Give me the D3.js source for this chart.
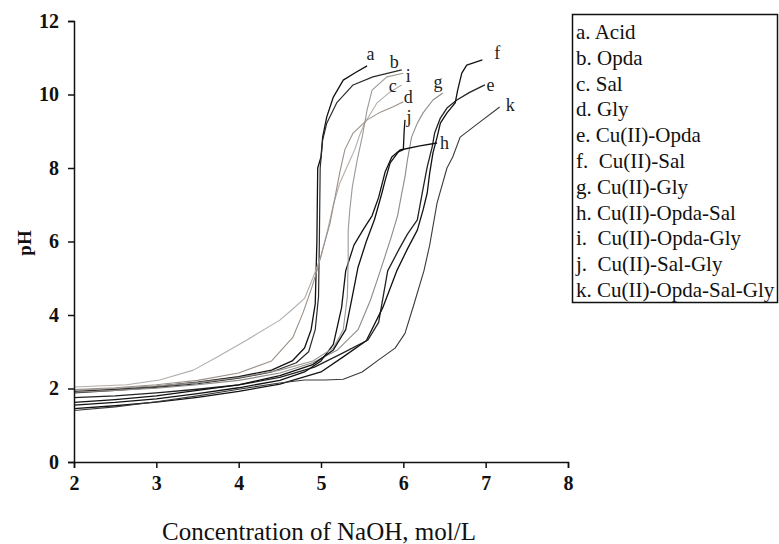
<!DOCTYPE html>
<html><head><meta charset="utf-8">
<script src="https://cdn.jsdelivr.net/npm/d3@7"></script>
<style>html,body{margin:0;padding:0;background:#fff;}svg{display:block;}</style>
</head><body>
<script>
const xTicks = [2,3,4,5,6,7,8];
const yTicks = [0,2,4,6,8,10,12];
const xTitle = "Concentration of NaOH, mol/L";
const yTitle = "pH";
const letters = ["a","b","c","d","e","f","g","h","i","j","k"];
const legendLabels = ["a. Acid","b. Opda","c. Sal","d. Gly","e. Cu(II)-Opda","f.  Cu(II)-Sal","g. Cu(II)-Gly","h. Cu(II)-Opda-Sal","i.  Cu(II)-Opda-Gly","j.  Cu(II)-Sal-Gly","k. Cu(II)-Opda-Sal-Gly"];

// [NaOH, pH] pairs
const curveA = [[2,1.92],[2.5,1.98],[3,2.06],[3.5,2.17],[4,2.32],[4.4,2.5],[4.65,2.75],[4.8,3.1],[4.88,3.6],[4.93,4.3],[4.95,6.0],[4.96,8.0],[5.0,8.3],[5.02,8.84],[5.07,9.39],[5.15,9.93],[5.27,10.39],[5.42,10.6],[5.56,10.78]];
const curveB = [[2,1.88],[2.5,1.95],[3,2.03],[3.5,2.13],[4,2.28],[4.4,2.45],[4.7,2.7],[4.85,3.0],[4.93,3.6],[4.97,4.5],[4.98,6.0],[4.99,8.0],[5.02,8.76],[5.07,9.22],[5.19,9.77],[5.39,10.26],[5.63,10.48],[5.98,10.67]];
const curveC = [[2,2.04],[2.64,2.1],[3.04,2.23],[3.45,2.5],[3.74,2.86],[4.1,3.32],[4.5,3.86],[4.65,4.15],[4.8,4.45],[4.9,5.0],[5.0,5.6],[5.08,6.3],[5.15,7.0],[5.23,7.6],[5.33,8.1],[5.41,8.5],[5.47,8.9],[5.53,9.22],[5.68,9.77],[5.84,10.07],[5.98,10.26]];
const curveD = [[2,1.97],[2.5,2.02],[3,2.1],[3.5,2.22],[4,2.42],[4.4,2.75],[4.66,3.4],[4.78,4.05],[4.89,4.76],[4.95,5.2],[5.02,5.77],[5.11,6.5],[5.17,7.2],[5.23,7.9],[5.29,8.5],[5.39,8.95],[5.56,9.31],[5.72,9.52],[5.87,9.66],[6.0,9.8]];
const curveE = [[2,1.75],[2.5,1.8],[3,1.88],[3.5,1.98],[4,2.1],[4.5,2.3],[4.92,2.58],[5.25,2.95],[5.57,3.32],[5.7,3.8],[5.81,5.2],[5.95,5.8],[6.05,6.2],[6.17,6.59],[6.23,7.32],[6.29,8.03],[6.35,8.57],[6.38,8.95],[6.45,9.36],[6.53,9.63],[6.65,9.85],[6.8,10.05],[6.99,10.26]];
const curveF = [[2,1.45],[2.5,1.53],[3,1.63],[3.5,1.76],[4,1.92],[4.5,2.12],[5.0,2.45],[5.27,2.86],[5.55,3.3],[5.75,4.2],[5.92,5.2],[6.05,5.8],[6.17,6.31],[6.24,6.86],[6.29,7.32],[6.32,7.86],[6.36,8.41],[6.41,8.84],[6.45,9.22],[6.53,9.5],[6.63,9.77],[6.66,10.12],[6.71,10.58],[6.77,10.8],[6.96,10.94]];
const curveG = [[2,1.9],[2.5,1.95],[3,2.01],[3.5,2.1],[4,2.22],[4.5,2.42],[4.9,2.7],[5.2,3.05],[5.45,3.6],[5.6,4.4],[5.72,5.2],[5.85,6.1],[5.93,6.7],[5.98,7.3],[6.02,7.76],[6.05,8.22],[6.1,8.84],[6.17,9.22],[6.24,9.5],[6.36,9.85],[6.48,10.04]];
const curveH = [[2,1.55],[2.5,1.62],[3,1.72],[3.5,1.86],[4,2.02],[4.5,2.22],[4.8,2.45],[5.0,2.75],[5.15,3.2],[5.25,4.2],[5.3,5.2],[5.4,5.9],[5.52,6.35],[5.62,6.7],[5.7,7.2],[5.78,7.9],[5.86,8.3],[5.96,8.49],[6.2,8.6],[6.41,8.68]];
const curveI = [[2,1.95],[2.5,2.0],[3,2.07],[3.5,2.16],[4,2.3],[4.5,2.5],[4.9,2.75],[5.15,3.1],[5.27,3.6],[5.32,4.5],[5.33,5.5],[5.33,6.3],[5.35,6.86],[5.38,7.48],[5.44,8.22],[5.5,8.84],[5.56,9.58],[5.62,10.12],[5.8,10.48],[6.0,10.58]];
const curveJ = [[2,1.62],[2.5,1.7],[3,1.8],[3.5,1.95],[4,2.1],[4.5,2.35],[4.9,2.65],[5.15,3.05],[5.3,3.6],[5.38,4.5],[5.45,5.3],[5.55,6.0],[5.65,6.6],[5.74,7.32],[5.78,7.67],[5.84,8.14],[5.94,8.44],[6.0,8.5],[6.01,9.0],[6.02,9.31]];
const curveK = [[2,1.4],[2.5,1.5],[3,1.64],[3.5,1.8],[4,1.98],[4.5,2.15],[4.8,2.23],[5.05,2.23],[5.27,2.25],[5.5,2.45],[5.7,2.78],[5.9,3.1],[6.02,3.5],[6.13,4.3],[6.25,5.2],[6.32,5.9],[6.41,7.05],[6.53,8.0],[6.6,8.3],[6.69,8.84],[6.9,9.2],[7.17,9.66]];
const curves = [curveA,curveB,curveC,curveD,curveE,curveF,curveG,curveH,curveI,curveJ,curveK];
// letter label positions [NaOH, pH]
const labelPos = [[5.6,11.1],[5.89,10.88],[5.87,10.23],[6.06,9.93],[7.06,10.26],[7.14,11.13],[6.42,10.34],[6.5,8.68],[6.06,10.5],[6.07,9.39],[7.3,9.71]];

const colors = ["#111","#2a2a2a","#b3aeab","#9a9089","#222","#111","#8f8b88","#111","#9d9995","#111","#3a3a3a"];
const widths = [1.3,1.2,1.1,1.1,1.3,1.3,1.1,1.3,1.1,1.3,1.1];

const W = 779, H = 544;
const svg = d3.select("body").append("svg").attr("width",W).attr("height",H);
svg.append("rect").attr("width",W).attr("height",H).attr("fill","#fff");

const x = d3.scaleLinear().domain([2,8]).range([74,568]);
const y = d3.scaleLinear().domain([0,12]).range([462,21]);
const serif = "'Liberation Serif','Times New Roman',serif";

// curves
const line = d3.line().x(d=>x(d[0])).y(d=>y(d[1]));
svg.append("g").selectAll("path").data(curves).join("path")
  .attr("d", line).attr("fill","none")
  .attr("stroke",(d,i)=>colors[i]).attr("stroke-width",(d,i)=>widths[i])
  .attr("stroke-linejoin","round");

// letters
svg.append("g").selectAll("text").data(labelPos).join("text")
  .attr("x",d=>x(d[0])).attr("y",d=>y(d[1]))
  .attr("text-anchor","middle").attr("dominant-baseline","central")
  .attr("font-family",serif).attr("font-size",18).attr("fill","#222")
  .text((d,i)=>letters[i]);

// axes
const gx = svg.append("g").attr("transform",`translate(0,${y(0)})`)
  .call(d3.axisBottom(x).tickValues(xTicks).tickFormat(d3.format("d")).tickSize(6).tickPadding(8));
const gy = svg.append("g").attr("transform",`translate(${x(2)},0)`)
  .call(d3.axisLeft(y).tickValues(yTicks).tickFormat(d3.format("d")).tickSize(6).tickPadding(9));
[gx,gy].forEach(g=>{
  g.selectAll("path,line").attr("stroke","#111").attr("stroke-width",1.5);
  g.selectAll("text").attr("font-family",serif).attr("font-size",20).attr("font-weight","bold").attr("fill","#111");
});

// titles
svg.append("text").attr("x",319).attr("y",540).attr("text-anchor","middle")
  .attr("font-family",serif).attr("font-size",25).attr("fill","#111").text(xTitle);
svg.append("text").attr("transform","translate(31,243) rotate(-90)").attr("text-anchor","middle")
  .attr("font-family",serif).attr("font-size",19).attr("font-weight","bold").attr("fill","#111").text(yTitle);

// legend
const lg = svg.append("g");
lg.append("rect").attr("x",572.5).attr("y",14.5).attr("width",205).attr("height",288)
  .attr("fill","#fff").attr("stroke","#111").attr("stroke-width",1.5);
lg.selectAll("text").data(legendLabels).join("text")
  .attr("x",576).attr("y",(d,i)=>39+i*25.8)
  .attr("font-family",serif).attr("font-size",21).attr("fill","#111")
  .style("white-space","pre").text(d=>d);
</script>
</body></html>
